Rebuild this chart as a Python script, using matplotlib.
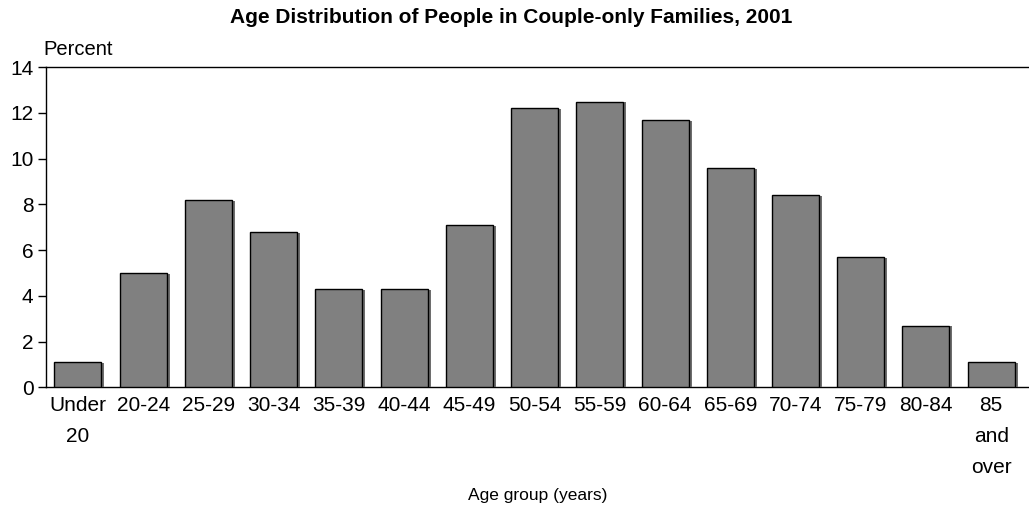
import matplotlib.pyplot as plt
import matplotlib.patheffects as pe
import numpy as np

plt.rcParams['font.family'] = ['Liberation Sans', 'DejaVu Sans']

age_groups = ["Under\n20", "20-24", "25-29", "30-34", "35-39", "40-44", "45-49",
              "50-54", "55-59", "60-64", "65-69", "70-74", "75-79", "80-84",
              "85\nand\nover"]
percent = [1.1, 5.0, 8.2, 6.8, 4.3, 4.3, 7.1, 12.2, 12.5, 11.7, 9.6, 8.4,
           5.7, 2.7, 1.1]
y_ticks = [0, 2, 4, 6, 8, 10, 12, 14]

fig = plt.figure(figsize=(10.29, 5.07), dpi=100)
ax = fig.add_axes([0.0447, 0.2361, 0.9553, 0.6312])

x = np.arange(len(age_groups))
bars = ax.bar(x, percent, width=0.72, color="#808080", edgecolor="black",
              linewidth=1.0, zorder=3)
for b in bars:
    b.set_path_effects([pe.SimplePatchShadow(offset=(2.2, -0.6),
                                             shadow_rgbFace="#6e6e6e", alpha=1.0),
                        pe.Normal()])

ax.set_xlim(-0.49, 14.58)
ax.set_ylim(0, 14)
ax.set_yticks(y_ticks)
ax.set_xticks(x)
ax.set_xticklabels(age_groups, linespacing=1.8)
ax.tick_params(axis="x", length=0, pad=6.5, labelsize=15)
ax.tick_params(axis="y", length=6, width=1, pad=3, labelsize=15, direction="out")

ax.spines["right"].set_visible(False)
for s in ["left", "top", "bottom"]:
    ax.spines[s].set_linewidth(1.0)

ax.set_xlabel("Age group (years)", fontsize=12.5, va="center")
ax.xaxis.set_label_coords(0.5, -0.3366)
ax.text(-0.003, 1.026, "Percent", transform=ax.transAxes,
        fontsize=14.5, ha="left", va="bottom")
fig.text(0.497, 0.965, "Age Distribution of People in Couple-only Families, 2001",
         ha="center", va="center", fontsize=15, fontweight="bold",
         family=["Liberation Sans Narrow", "Liberation Sans", "DejaVu Sans"])

fig.savefig("out.png", dpi=100)
